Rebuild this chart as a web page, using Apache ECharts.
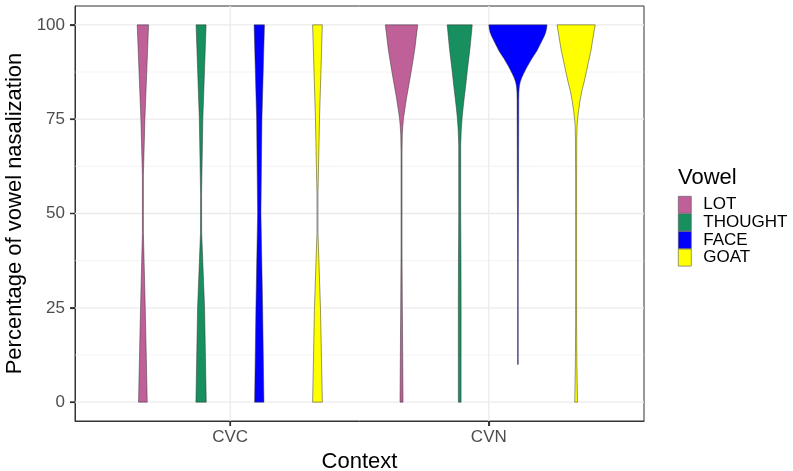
<!DOCTYPE html>
<html>
<head>
<meta charset="utf-8">
<script src="https://cdn.jsdelivr.net/npm/echarts@6/dist/echarts.min.js"></script>
<style>
  html, body { margin: 0; padding: 0; background: #fff; }
  #chart { width: 793px; height: 471px; }
</style>
</head>
<body>
<div id="chart"></div>
<script>
// Categories and labels
const contexts = ['CVC', 'CVN'];
const vowels = ['LOT', 'THOUGHT', 'FACE', 'GOAT'];
const vowelColors = ['#BF6198', '#178F5E', '#0000FF', '#FFFF00'];
const yTicks = [0, 25, 50, 75, 100];
const yMinor = [12.5, 37.5, 62.5, 87.5];

// Violin profiles: [percentage, relative density width (1 = widest violin)]
const lotCVC = [[0, 0.150], [25, 0.081], [45, 0.017], [60, 0.017], [75, 0.069], [100, 0.195]];
const thoughtCVC = [[0, 0.178], [25, 0.120], [45, 0.020], [55, 0.017], [75, 0.060], [100, 0.172]];
const faceCVC = [[0, 0.160], [25, 0.115], [50, 0.057], [75, 0.091], [100, 0.178]];
const goatCVC = [[0, 0.167], [25, 0.103], [45, 0.017], [55, 0.017], [75, 0.069], [100, 0.167]];

const lotCVN = [[0, 0.052], [12, 0.041], [25, 0.028], [40, 0.017], [66, 0.017], [70.8, 0.026],
  [73, 0.043], [75.3, 0.069], [78, 0.121], [80.6, 0.172], [84, 0.250], [87.7, 0.333],
  [90.7, 0.397], [93.8, 0.460], [97, 0.509], [100, 0.557]];
const thoughtCVN = [[0, 0.047], [10, 0.047], [25, 0.048], [35, 0.045], [50, 0.034], [68, 0.034],
  [72, 0.052], [75.3, 0.081], [78, 0.117], [80.6, 0.155], [84, 0.207], [87.7, 0.259],
  [93.8, 0.353], [100, 0.431]];
const faceCVN = [[10, 0.010], [30, 0.010], [50, 0.015], [60, 0.020], [75, 0.026], [80, 0.028],
  [82, 0.032], [83, 0.040], [84, 0.055], [85, 0.085], [86, 0.130], [87, 0.190], [88, 0.255],
  [89, 0.325], [90, 0.400], [91, 0.475], [92, 0.560], [93, 0.645], [94, 0.710], [95, 0.775],
  [96, 0.840], [97, 0.905], [98, 0.955], [99, 0.985], [100, 1.000]];
const goatCVN = [[0, 0.047], [10, 0.026], [20, 0.017], [60, 0.017], [70, 0.022], [73.5, 0.034],
  [75, 0.050], [77, 0.081], [79.7, 0.130], [82.4, 0.195], [85, 0.280], [87.7, 0.357],
  [90.4, 0.430], [93, 0.505], [96.5, 0.580], [100, 0.655]];

const profiles = [
  [lotCVC, lotCVN],
  [thoughtCVC, thoughtCVN],
  [faceCVC, faceCVN],
  [goatCVC, goatCVN]
];

const dodgeWidth = 0.9;
const slot = dodgeWidth / vowels.length;
const FONT = '"Liberation Sans", Arial, Helvetica, sans-serif';
const TICK_LEN = 5;
const TICK_COLOR = '#333333';

function violinRenderer(v) {
  return function (params, api) {
    const c = api.value(0);
    const prof = profiles[v][c - 1];
    const cx = c + (v - (vowels.length - 1) / 2) * slot;
    const half = slot / 2;
    const right = prof.map(p => api.coord([cx + half * p[1], p[0]]));
    const left = prof.slice().reverse().map(p => api.coord([cx - half * p[1], p[0]]));
    return {
      type: 'polygon',
      shape: { points: right.concat(left) },
      style: { fill: vowelColors[v], stroke: '#333333', lineWidth: 0.5 }
    };
  };
}

// Panel grid lines (major + minor), drawn beneath the violins, plus outer tick marks
const gridLines = [];
yTicks.forEach(y => gridLines.push(['h', y, 1.3]));
yMinor.forEach(y => gridLines.push(['h', y, 0.6]));
contexts.forEach((_, i) => gridLines.push(['v', i + 1, 1.3]));
yTicks.forEach(y => gridLines.push(['ty', y]));
contexts.forEach((_, i) => gridLines.push(['tx', i + 1]));

const series = [{
  type: 'custom',
  name: 'grid',
  silent: true,
  clip: false,
  z: 1,
  data: gridLines.map((g, i) => [1, 50, i]),
  renderItem: function (params, api) {
    const g = gridLines[params.dataIndex];
    const cs = params.coordSys;
    if (g[0] === 'h') {
      const y = api.coord([1, g[1]])[1];
      return { type: 'line', shape: { x1: cs.x, y1: y, x2: cs.x + cs.width, y2: y },
        style: { stroke: '#EBEBEB', lineWidth: g[2] } };
    }
    if (g[0] === 'v') {
      const x = api.coord([g[1], 0])[0];
      return { type: 'line', shape: { x1: x, y1: cs.y, x2: x, y2: cs.y + cs.height },
        style: { stroke: '#EBEBEB', lineWidth: g[2] } };
    }
    if (g[0] === 'ty') {
      const y = api.coord([1, g[1]])[1];
      return { type: 'rect', z2: 100,
        shape: { x: cs.x - TICK_LEN, y: y - 0.6, width: TICK_LEN, height: 1.2 },
        style: { fill: TICK_COLOR } };
    }
    const x = api.coord([g[1], 0])[0];
    return { type: 'rect', z2: 100,
      shape: { x: x - 0.6, y: cs.y + cs.height, width: 1.2, height: TICK_LEN },
      style: { fill: TICK_COLOR } };
  }
}];

vowels.forEach((name, v) => {
  series.push({
    type: 'custom',
    name: name,
    z: 2,
    silent: true,
    itemStyle: { color: vowelColors[v] },
    encode: { x: 0, y: 1 },
    data: contexts.map((_, c) => [c + 1, 50]),
    renderItem: violinRenderer(v)
  });
});

const chart = echarts.init(document.getElementById('chart'), null, { renderer: 'canvas' });
chart.setOption({
  animation: false,
  backgroundColor: '#ffffff',
  textStyle: { fontFamily: FONT },
  grid: {
    left: 75, right: 149, top: 6, bottom: 50,
    outerBoundsMode: 'none', containLabel: false,
    show: true, borderColor: '#333333', borderWidth: 1, backgroundColor: 'transparent'
  },
  title: {
    text: 'Vowel', left: 673, top: 162,
    textStyle: { fontFamily: FONT, fontSize: 22, fontWeight: 'normal', color: '#000' }
  },
  legend: {
    orient: 'vertical', left: 673, top: 191,
    data: vowels.map(n => ({ name: n, icon: 'rect' })),
    itemWidth: 13, itemHeight: 17, itemGap: 0,
    itemStyle: { borderColor: '#555555', borderWidth: 0.6 },
    selectedMode: false,
    textStyle: { fontFamily: FONT, fontSize: 17, color: '#000', lineHeight: 17, padding: [0, 0, 0, 7] }
  },
  xAxis: {
    type: 'value', min: 0.4, max: 2.6,
    name: 'Context', nameLocation: 'middle', nameGap: 30,
    nameTextStyle: { fontFamily: FONT, fontSize: 22, color: '#000' },
    axisLine: { show: true, onZero: false, lineStyle: { color: '#333333', width: 1 } },
    splitLine: { show: false },
    axisTick: { show: true, inside: false, customValues: [1, 2], length: TICK_LEN,
      lineStyle: { color: TICK_COLOR, width: 1.2 } },
    axisLabel: {
      customValues: [1, 2], margin: 8, fontSize: 17, color: '#4D4D4D', fontFamily: FONT,
      formatter: v => contexts[Math.round(v) - 1]
    }
  },
  yAxis: {
    type: 'value', min: -5, max: 105,
    name: 'Percentage of vowel nasalization', nameLocation: 'middle', nameGap: 48, nameRotate: 90,
    nameTextStyle: { fontFamily: FONT, fontSize: 22, color: '#000' },
    axisLine: { show: true, onZero: false, lineStyle: { color: '#333333', width: 1 } },
    splitLine: { show: false },
    axisTick: { show: true, inside: false, customValues: yTicks, length: TICK_LEN,
      lineStyle: { color: TICK_COLOR, width: 1.2 } },
    axisLabel: { customValues: yTicks, margin: 10, fontSize: 17, color: '#4D4D4D', fontFamily: FONT }
  },
  series: series
});

// Outer tick marks as graphic elements, positioned through the chart's own scales
try {
  const ticks = [];
  const x0 = chart.convertToPixel({ xAxisIndex: 0 }, 0.4);
  const yBottom = chart.convertToPixel({ yAxisIndex: 0 }, -5);
  yTicks.forEach(v => {
    const y = chart.convertToPixel({ yAxisIndex: 0 }, v);
    ticks.push({ type: 'rect', silent: true, z: 100,
      shape: { x: x0 - TICK_LEN, y: y - 0.6, width: TICK_LEN, height: 1.2 },
      style: { fill: TICK_COLOR } });
  });
  contexts.forEach((_, i) => {
    const x = chart.convertToPixel({ xAxisIndex: 0 }, i + 1);
    ticks.push({ type: 'rect', silent: true, z: 100,
      shape: { x: x - 0.6, y: yBottom, width: 1.2, height: TICK_LEN },
      style: { fill: TICK_COLOR } });
  });
  chart.setOption({ graphic: { elements: ticks } });
} catch (e) {
  console.error(e);
}
</script>
</body>
</html>
